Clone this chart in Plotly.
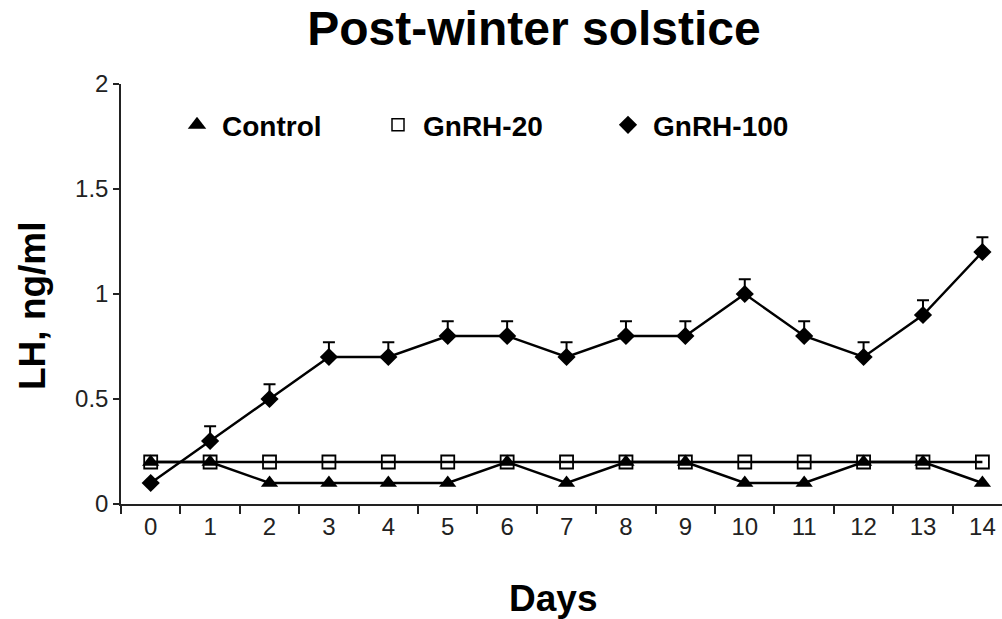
import plotly.graph_objects as go

days = list(range(15))
day_labels = [str(d) for d in days]
control = [0.2, 0.2, 0.1, 0.1, 0.1, 0.1, 0.2, 0.1, 0.2, 0.2, 0.1, 0.1, 0.2, 0.2, 0.1]
gnrh20 = [0.2] * 15
gnrh100 = [0.1, 0.3, 0.5, 0.7, 0.7, 0.8, 0.8, 0.7, 0.8, 0.8, 1.0, 0.8, 0.7, 0.9, 1.2]
gnrh100_err = [0.0, 0.07, 0.07, 0.07, 0.07, 0.07, 0.07, 0.07, 0.07, 0.07, 0.07, 0.07, 0.07, 0.07, 0.07]

BOLD = "Liberation Sans, Arial, sans-serif"
NARROW = "Liberation Sans Narrow, Arial Narrow, Liberation Sans, sans-serif"

fig = go.Figure()

fig.add_trace(go.Scatter(
    x=days, y=gnrh20, mode="lines+markers", showlegend=False,
    line=dict(color="black", width=2.4),
    marker=dict(symbol="square-open", size=13, color="black", line=dict(width=1.8)),
))
fig.add_trace(go.Scatter(
    x=days, y=control, mode="lines+markers", showlegend=False,
    line=dict(color="black", width=2.4),
    marker=dict(symbol="triangle-up", size=15, color="black"),
))
fig.add_trace(go.Scatter(
    x=days, y=gnrh100, mode="lines+markers", showlegend=False,
    line=dict(color="black", width=2.4),
    marker=dict(symbol="diamond", size=14, color="black"),
    error_y=dict(type="data", array=gnrh100_err, symmetric=False,
                 arrayminus=[0] * 15, color="black", thickness=2, width=6),
))

# legend-only traces
fig.add_trace(go.Scatter(x=[None], y=[None], mode="markers", name="<b>Control</b>",
                         marker=dict(symbol="triangle-up", size=16, color="black"),
                         legend="legend"))
fig.add_trace(go.Scatter(x=[None], y=[None], mode="markers", name="<b>GnRH-20</b>",
                         marker=dict(symbol="square-open", size=12, color="black", line=dict(width=1.5)),
                         legend="legend2"))
fig.add_trace(go.Scatter(x=[None], y=[None], mode="markers", name="<b>GnRH-100</b>",
                         marker=dict(symbol="diamond", size=14, color="black"),
                         legend="legend3"))

leg_common = dict(orientation="h", yanchor="middle", y=0.902, xanchor="left",
                  itemwidth=40,
                  bgcolor="rgba(0,0,0,0)", font=dict(family=BOLD, size=28, color="black"))

fig.update_layout(
    width=1002, height=619,
    margin=dict(l=121, r=0, t=84, b=115),
    paper_bgcolor="white", plot_bgcolor="white",
    title=dict(text="<b>Post-winter solstice</b>", xref="container", x=534 / 1002,
               xanchor="center", yref="container", y=1 - 28 / 619, yanchor="middle",
               font=dict(family=BOLD, size=48, color="black")),
    xaxis=dict(range=[-0.5, 14.33], tickmode="array", tickvals=days, ticktext=day_labels,
               ticks="", showgrid=False, zeroline=False, showline=True,
               linecolor="#222", linewidth=1.5,
               tickfont=dict(family=NARROW, size=24, color="#222"),
               minor=dict(tickmode="linear", tick0=0.5, dtick=1, ticks="outside",
                          ticklen=8, tickwidth=1.5, tickcolor="#222", showgrid=False)),
    yaxis=dict(range=[0, 2], tickmode="array", tickvals=[0, 0.5, 1, 1.5, 2],
               ticktext=["0", "0.5", "1", "1.5", "2"],
               ticks="outside", ticklen=6, tickwidth=1.5, tickcolor="#222",
               showgrid=False, zeroline=False, showline=True,
               linecolor="#222", linewidth=1.5,
               tickfont=dict(family=NARROW, size=24, color="#222")),
    legend=dict(x=(197 - 25 - 121) / 881, **leg_common),
    legend2=dict(x=(398 - 25 - 121) / 881, **leg_common),
    legend3=dict(x=(628 - 25 - 121) / 881, **leg_common),
    annotations=[
        dict(text="<b>Days</b>", xref="paper", yref="paper", x=(553 - 121) / 881,
             y=(504 - 598) / 420, xanchor="center", yanchor="middle", showarrow=False,
             font=dict(family=BOLD, size=37, color="black")),
        dict(text="<b>LH, ng/ml</b>", xref="paper", yref="paper", x=(32 - 121) / 881,
             y=(504 - 306) / 420, xanchor="center", yanchor="middle", showarrow=False,
             textangle=-90, font=dict(family=BOLD, size=37, color="black")),
    ],
)

fig.write_html("out.html")
